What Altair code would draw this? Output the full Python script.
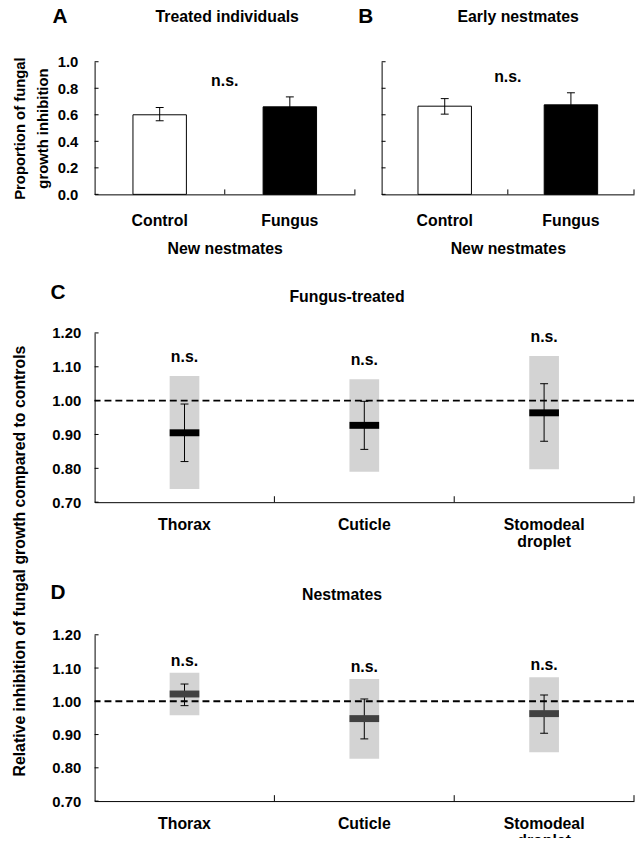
import altair as alt
import pandas as pd

FONT = "Liberation Sans"

# ---------------- Panels A and B ----------------
groups = ["Control", "Fungus"]
a_mean = [0.60, 0.66]
a_lo = [0.555, 0.585]
a_hi = [0.655, 0.735]
b_mean = [0.665, 0.675]
b_lo = [0.605, 0.585]
b_hi = [0.722, 0.766]
ab_ticks = [0.0, 0.2, 0.4, 0.6, 0.8, 1.0]
bar_fills = ["#ffffff", "#000000"]
ns_ab = ["n.s."]

# ---------------- Panels C and D ----------------
parts = ["Thorax", "Cuticle", "Stomodeal droplet"]
c_mean = [0.905, 0.927, 0.964]
c_err_lo = [0.82, 0.856, 0.88]
c_err_hi = [0.99, 0.998, 1.05]
c_box_lo = [0.739, 0.79, 0.797]
c_box_hi = [1.073, 1.063, 1.132]
d_mean = [1.022, 0.948, 0.963]
d_err_lo = [0.987, 0.887, 0.904]
d_err_hi = [1.052, 1.007, 1.019]
d_box_lo = [0.958, 0.827, 0.847]
d_box_hi = [1.086, 1.067, 1.072]
cd_ticks = [0.7, 0.8, 0.9, 1.0, 1.1, 1.2]
ns_cd = ["n.s.", "n.s.", "n.s."]
ref_level = [1.0]


def text_layer(label, x, y, size):
    return alt.Chart(pd.DataFrame({"label": [label]})).mark_text(
        font=FONT, fontSize=size, fontWeight="bold", color="#000000",
        baseline="middle", align="center"
    ).encode(x=alt.value(x), y=alt.value(y), text="label:N")


def bar_panel(mean, lo, hi, width, letter, letter_x, heading, heading_x, ns_y, show_labels):
    H = 134
    df = pd.DataFrame({"group": groups, "mean": mean, "lo": lo, "hi": hi})
    base = alt.Chart(df)
    xscale = alt.Scale(domain=groups, paddingInner=0, paddingOuter=0)
    if show_labels:
        yaxis = alt.Axis(values=ab_ticks, tickCount=len(ab_ticks), format=".1f",
                         labelPadding=17, labelFontSize=15,
                         labelOverlap=False, labelFlush=False,
                         title=["Proportion of fungal", "growth inhibition"],
                         titleAngle=270, titleX=-83, titleY=67, titleBaseline="top",
                         titleAlign="center", titleFontSize=15, titleLineHeight=23)
    else:
        yaxis = alt.Axis(values=ab_ticks, tickCount=len(ab_ticks), labels=False, title=None)
    xaxis = alt.Axis(title="New nestmates", titleY=55, titleBaseline="middle", titleFontSize=16,
                     labelFontSize=16, labelPadding=18, labelAngle=0, labelOverlap=False)
    bars = base.mark_bar(size=54, stroke="#000000", strokeWidth=1).encode(
        x=alt.X("group:N", scale=xscale, axis=xaxis),
        y=alt.Y("mean:Q", scale=alt.Scale(domain=[0, 1]), axis=yaxis),
        fill=alt.Fill("group:N", scale=alt.Scale(domain=groups, range=bar_fills), legend=None),
    )
    err = base.mark_rule(color="#000000", strokeWidth=1).encode(
        x=alt.X("group:N"), y=alt.Y("lo:Q"), y2="hi:Q")
    cap_lo = base.mark_tick(color="#000000", size=8, thickness=1, opacity=1).encode(
        x=alt.X("group:N"), y=alt.Y("lo:Q"))
    cap_hi = base.mark_tick(color="#000000", size=8, thickness=1, opacity=1).encode(
        x=alt.X("group:N"), y=alt.Y("hi:Q"))
    yticks = alt.Chart(pd.DataFrame({"t": ab_ticks})).mark_rule(color="#000000", strokeWidth=1).encode(
        x=alt.value(0), x2=alt.value(4), y=alt.Y("t:Q"))
    xticks = base.mark_rule(color="#000000", strokeWidth=1).encode(
        x=alt.X("group:N", bandPosition=1), y=alt.value(H), y2=alt.value(H - 5))
    ns = alt.Chart(pd.DataFrame({"group": ["Control"], "label": ns_ab})).mark_text(
        font=FONT, fontSize=16, fontWeight="bold", color="#000000", baseline="middle"
    ).encode(x=alt.X("group:N", bandPosition=1), y=alt.value(ns_y), text="label:N")
    return alt.layer(
        bars, err, cap_lo, cap_hi, yticks, xticks, ns,
        text_layer(heading, heading_x, -45, 16),
        text_layer(letter, letter_x, -45, 21),
    ).properties(width=width, height=H)


def box_panel(mean, elo, ehi, blo, bhi, H, letter, heading, heading_x, heading_y, letter_y,
              mean_color, ns_dy, show_title):
    df = pd.DataFrame({"part": parts, "mean": mean, "elo": elo, "ehi": ehi,
                       "blo": blo, "bhi": bhi, "ns": ns_cd})
    base = alt.Chart(df)
    xscale = alt.Scale(domain=parts, paddingInner=0, paddingOuter=0)
    yscale = alt.Scale(domain=[0.7, 1.2])
    if show_title:
        yaxis = alt.Axis(values=cd_ticks, tickCount=len(cd_ticks), format=".2f",
                         labelPadding=14, labelFontSize=15,
                         labelOverlap=False, labelFlush=False,
                         title="Relative inhibition of fungal growth compared to controls",
                         titleAngle=270, titleX=-84, titleY=230, titleBaseline="top",
                         titleAlign="center", titleFontSize=16)
    else:
        yaxis = alt.Axis(values=cd_ticks, tickCount=len(cd_ticks), format=".2f",
                         labelPadding=14, labelFontSize=15,
                         labelOverlap=False, labelFlush=False, title=None)
    xaxis = alt.Axis(title=None, labelFontSize=16, labelPadding=15, labelAngle=0, labelOverlap=False,
                     labelExpr="split(datum.label, ' ')", labelLineHeight=17)
    boxes = base.mark_bar(size=30, color="#d3d3d3").encode(
        x=alt.X("part:N", scale=xscale, axis=xaxis),
        y=alt.Y("blo:Q", scale=yscale, axis=yaxis), y2="bhi:Q")
    ref = alt.Chart(pd.DataFrame({"v": ref_level})).mark_rule(
        color="#000000", strokeWidth=2, strokeDash=[7, 4]).encode(y=alt.Y("v:Q"))
    err = base.mark_rule(color="#000000", strokeWidth=1).encode(
        x=alt.X("part:N"), y=alt.Y("elo:Q"), y2="ehi:Q")
    cap_lo = base.mark_tick(color="#000000", size=8, thickness=1, opacity=1).encode(
        x=alt.X("part:N"), y=alt.Y("elo:Q"))
    cap_hi = base.mark_tick(color="#000000", size=8, thickness=1, opacity=1).encode(
        x=alt.X("part:N"), y=alt.Y("ehi:Q"))
    means = base.mark_tick(color=mean_color, size=30, thickness=7, opacity=1).encode(
        x=alt.X("part:N"), y=alt.Y("mean:Q"))
    ns = base.mark_text(font=FONT, fontSize=16, fontWeight="bold", color="#000000",
                        baseline="middle", dy=ns_dy).encode(
        x=alt.X("part:N"), y=alt.Y("bhi:Q"), text="ns:N")
    yticks = alt.Chart(pd.DataFrame({"t": cd_ticks})).mark_rule(color="#000000", strokeWidth=1).encode(
        x=alt.value(0), x2=alt.value(4), y=alt.Y("t:Q"))
    xticks = base.mark_rule(color="#000000", strokeWidth=1).encode(
        x=alt.X("part:N", bandPosition=1), y=alt.value(H), y2=alt.value(H - 6))
    return alt.layer(
        boxes, ref, err, cap_lo, cap_hi, means, ns, yticks, xticks,
        text_layer(heading, heading_x, heading_y, 16),
        text_layer(letter, -37, letter_y, 21),
    ).properties(width=545, height=H)


panel_a = bar_panel(a_mean, a_lo, a_hi, 263, "A", -35, "Treated individuals", 134, 20, True)
panel_b = bar_panel(b_mean, b_lo, b_hi, 255, "B", -16, "Early nestmates", 138, 15, False)
panel_c = box_panel(c_mean, c_err_lo, c_err_hi, c_box_lo, c_box_hi, 171, "C", "Fungus-treated",
                    255, -36, -40, "#000000", -19, True)
panel_d = box_panel(d_mean, d_err_lo, d_err_hi, d_box_lo, d_box_hi, 168, "D", "Nestmates",
                    250, -40, -42, "#404040", -12, False)

top = alt.hconcat(panel_a, panel_b, spacing=27, bounds="flush")
bottom = alt.vconcat(panel_c, panel_d, spacing=134, bounds="flush")

# nested flush groups count as zero height, so the outer gap includes panel A's height
chart = alt.vconcat(top, bottom, spacing=274, bounds="flush").properties(
    padding={"left": 2.5, "top": -6, "right": 0, "bottom": -15}
).configure(
    font=FONT, background="#ffffff"
).configure_axis(
    domainColor="#000000", domainWidth=1, grid=False, ticks=False, tickSize=0,
    labelColor="#000000", titleColor="#000000", labelFont=FONT, titleFont=FONT,
    labelFontWeight="bold", titleFontWeight="bold", labelOverlap=False
).configure_view(strokeWidth=0)

chart.save("out.html", embed_options={"renderer": "svg", "actions": False})
